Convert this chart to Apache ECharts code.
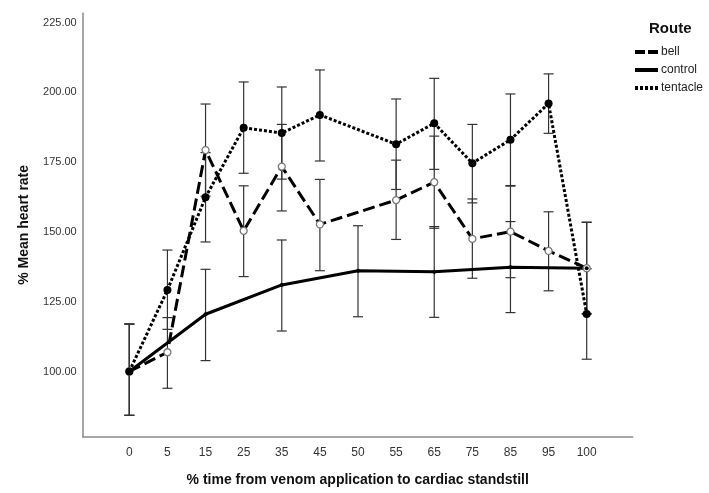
<!DOCTYPE html>
<html>
<head>
<meta charset="utf-8">
<script src="https://cdn.jsdelivr.net/npm/echarts@6/dist/echarts.min.js"></script>
<style>
html,body{margin:0;padding:0;background:#fff;}
#chart{width:709px;height:493px;}
</style>
</head>
<body>
<div id="chart"></div>
<script>
// ---- data ----
const categories = ['0','5','15','25','35','45','50','55','65','75','85','95','100'];
const yTickValues = [100,125,150,175,200,225];

const bellMean = [100, 106.9, 179.3, 150.4, 173.4, 152.7, null, 161.4, 167.8, 147.5, 150.1, 143.2, 137.0];
const bellLow  = [84.3, 94.0, 162.8, 134.0, 157.5, 136.1, null, 147.3, 151.3, 133.4, 133.6, 128.9, 120.5];
const bellHigh = [117.0, 119.3, 195.8, 166.5, 188.5, 168.8, null, 175.7, 184.3, 161.8, 166.4, 157.2, 153.5];

const controlMean = [100, null, 120.5, null, 131.0, null, 136.1, null, 135.7, null, 137.3, null, 137.0];
const controlLow  = [84.3, null, 103.9, null, 114.5, null, 119.6, null, 119.4, null, 121.1, null, 120.8];
const controlHigh = [117.0, null, 136.6, null, 147.1, null, 152.2, null, 151.9, null, 153.7, null, 153.4];

const tentacleMean = [100, 129.2, 162.4, 187.3, 185.4, 191.9, null, 181.4, 188.9, 174.6, 183.0, 196.0, 120.6];
const tentacleLow  = [84.3, 115.1, 146.4, 171.0, 168.9, 175.4, null, 165.2, 172.4, 160.4, 166.6, 185.3, 104.4];
const tentacleHigh = [117.0, 143.5, 178.4, 203.7, 201.9, 208.0, null, 197.6, 205.0, 188.5, 199.4, 206.6, 136.8];

// ---- helpers ----
function pts(mean){
  const out=[];
  mean.forEach((v,i)=>{ if(v!==null) out.push([i,v]); });
  return out;
}
function errs(low,high){
  const out=[];
  low.forEach((v,i)=>{ if(v!==null && high[i]!==null) out.push([i,v,high[i]]); });
  return out;
}
function renderErr(params, api){
  const x = api.value(0), lo = api.value(1), hi = api.value(2);
  const a = api.coord([x, lo]), b = api.coord([x, hi]);
  const w = 5;
  const st = {stroke:'#333', lineWidth:1.2};
  return {type:'group', children:[
    {type:'line', shape:{x1:a[0],y1:a[1],x2:b[0],y2:b[1]}, style:st},
    {type:'line', shape:{x1:a[0]-w,y1:a[1],x2:a[0]+w,y2:a[1]}, style:st},
    {type:'line', shape:{x1:b[0]-w,y1:b[1],x2:b[0]+w,y2:b[1]}, style:st}
  ]};
}
function errSeries(low,high){
  return {type:'custom', renderItem:renderErr, data:errs(low,high),
    encode:{x:0,y:[1,2]}, z:1, silent:true, legendHoverLink:false};
}

const chart = echarts.init(document.getElementById('chart'), null, {renderer:'canvas'});
const font = 'Liberation Sans, Arial, sans-serif';

chart.setOption({
  animation:false,
  textStyle:{fontFamily:font},
  title:{text:'Route', left:649, top:21, padding:0, textStyle:{fontSize:15, fontWeight:'bold', color:'#111', fontFamily:font}},
  legend:{
    orient:'vertical', left:635, top:46, padding:0, itemGap:6, itemWidth:23, itemHeight:4,
    textStyle:{fontSize:12, color:'#222', fontFamily:font, padding:[0,0,0,-2]},
    data:[
      {name:'bell', icon:'path://M0,0h10v4h-10z M13,0h10v4h-10z'},
      {name:'control', icon:'path://M0,0h23v4h-23z'},
      {name:'tentacle', icon:'path://M0,0h3v4h-3z M5,0h3v4h-3z M10,0h3v4h-3z M15,0h3v4h-3z M20,0h3v4h-3z'}
    ],
    itemStyle:{color:'#000', borderWidth:0, borderColor:'transparent'}
  },
  grid:{left:82.7, top:13, right:76.3, bottom:56.3},
  xAxis:{
    type:'value', min:-1.223, max:13.207,
    name:'% time from venom application to cardiac standstill',
    nameLocation:'middle', nameGap:36,
    nameTextStyle:{fontSize:14, fontWeight:'bold', color:'#111', fontFamily:font},
    axisLine:{show:true, onZero:false, lineStyle:{color:'#8a8a8a', width:1.5}},
    axisTick:{show:false},
    splitLine:{show:false},
    axisLabel:{
      customValues: categories.map((c,i)=>i),
      formatter:(v)=>categories[Math.round(v)],
      fontSize:12, color:'#333', margin:10, fontFamily:font
    }
  },
  yAxis:{
    type:'value', min:76.65, max:228.4,
    name:'% Mean heart rate', nameLocation:'middle', nameGap:52,
    nameTextStyle:{fontSize:14, fontWeight:'bold', color:'#111', fontFamily:font},
    axisLine:{show:true, onZero:false, lineStyle:{color:'#8a8a8a', width:1.5}},
    axisTick:{show:false},
    splitLine:{show:false},
    axisLabel:{
      customValues: yTickValues,
      formatter:(v)=>v.toFixed(2),
      fontSize:11, color:'#333', margin:6, fontFamily:font
    }
  },
  series:[
    errSeries(bellLow,bellHigh),
    errSeries(controlLow,controlHigh),
    errSeries(tentacleLow,tentacleHigh),
    {name:'bell', type:'line', data:pts(bellMean), z:3,
      lineStyle:{color:'#000', width:3, type:[12,5]},
      symbol:'circle', symbolSize:7,
      itemStyle:{color:'#fff', borderColor:'#777', borderWidth:1.3}},
    {name:'control', type:'line', data:pts(controlMean), z:3,
      lineStyle:{color:'#000', width:3, type:'solid'},
      symbol:'circle', symbolSize:4,
      itemStyle:{color:'#000'}},
    {name:'tentacle', type:'line', data:pts(tentacleMean), z:4,
      lineStyle:{color:'#000', width:3, type:[3,2]},
      symbol:'circle', symbolSize:8,
      itemStyle:{color:'#000'}}
  ]
});
</script>
</body>
</html>
